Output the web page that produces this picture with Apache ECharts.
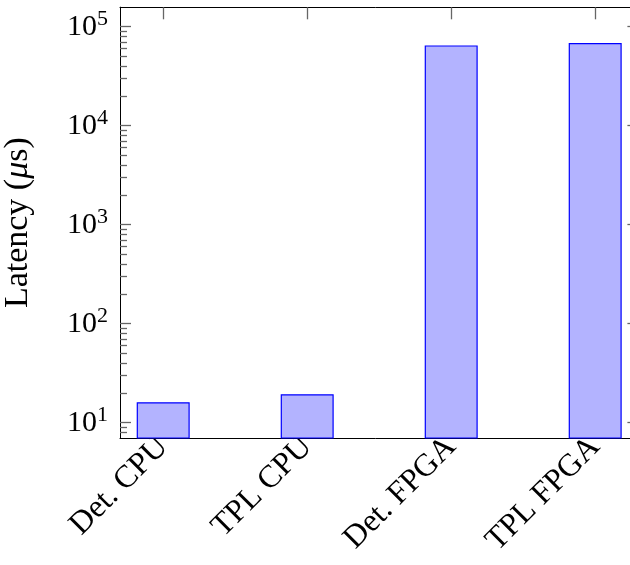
<!DOCTYPE html>
<html>
<head>
<meta charset="utf-8">
<script src="https://cdn.jsdelivr.net/npm/echarts@6/dist/echarts.min.js"></script>
<style>
  html, body { margin: 0; padding: 0; background: #fff; }
  #chart { width: 630px; height: 565px; }
</style>
</head>
<body>
<div id="chart"></div>
<script>
const categories = ["Det. CPU", "TPL CPU", "Det. FPGA", "TPL FPGA"];
const latency = [16.1, 19.4, 64700, 68400];
const majorExp = [1, 2, 3, 4, 5];
const minorMult = [2, 3, 4, 5, 6, 7, 8, 9];
const yMin = 7;
const yMax = 157000;

const font = "Liberation Serif";
const lMin = Math.log10(yMin);
const lMax = Math.log10(yMax);

// minor ticks (2..9 x 10^k), in log space for the overlay axis
const minorLog = [];
for (let k = 0; k <= 5; k++) {
  minorMult.forEach((m) => {
    const v = Math.log10(m) + k;
    if (v > lMin && v < lMax) minorLog.push(v);
  });
}

const tickStyle = { color: "#666", width: 1.3 };

// overlay axis used only to draw tick marks
const tickAxis = (pos, len, values) => ({
  type: "value",
  min: lMin,
  max: lMax,
  position: pos,
  splitLine: { show: false },
  axisLine: { show: true, onZero: false, lineStyle: { color: "#000", width: 1 } },
  axisLabel: { show: false },
  axisTick: { show: true, inside: true, length: len, customValues: values, lineStyle: tickStyle },
});

const option = {
  animation: false,
  grid: { left: 120, right: -8.4, top: 7.3, bottom: 127, outerBoundsMode: "none" },
  xAxis: [
    {
      type: "value",
      min: -0.3,
      max: 3.3,
      position: "bottom",
      splitLine: { show: false },
      axisLine: { onZero: false, lineStyle: { color: "#000", width: 1 } },
      axisTick: { show: false },
      axisLabel: {
        customValues: [0, 1, 2, 3],
        formatter: (v) => categories[Math.round(v)],
        rotate: 45,
        margin: 4,
        fontFamily: font,
        fontSize: 32,
        color: "#000",
      },
    },
    {
      type: "value",
      min: -0.3,
      max: 3.3,
      position: "top",
      splitLine: { show: false },
      axisLine: { onZero: false, lineStyle: { color: "#000", width: 1 } },
      axisTick: {
        inside: true,
        length: 12,
        customValues: [0, 1, 2, 3],
        lineStyle: tickStyle,
      },
      axisLabel: { show: false },
    },
  ],
  yAxis: [
    {
      type: "log",
      min: yMin,
      max: yMax,
      position: "left",
      splitLine: { show: false },
      axisLine: { onZero: false, lineStyle: { color: "#000", width: 1 } },
      axisTick: { show: false },
      name: "Latency ({i|μ}s)",
      nameLocation: "middle",
      nameGap: 85,
      nameTextStyle: {
        fontFamily: font,
        fontSize: 34,
        color: "#000",
        rich: { i: { fontFamily: font, fontSize: 34, fontStyle: "italic", color: "#000" } },
      },
      axisLabel: {
        margin: 12,
        color: "#000",
        formatter: (v) => {
          const e = Math.round(Math.log10(v));
          if (Math.abs(Math.log10(v) - e) > 1e-6) return "";
          return "{b|10}{s|" + e + "}";
        },
        rich: {
          b: { fontFamily: font, fontSize: 30, color: "#000" },
          s: { fontFamily: font, fontSize: 22, color: "#000", padding: [0, 0, 14, 0] },
        },
      },
    },
    tickAxis("left", 7, minorLog),
    tickAxis("left", 11, majorExp),
    tickAxis("right", 11, majorExp),
  ],
  series: [
    {
      type: "bar",
      xAxisIndex: 0,
      yAxisIndex: 0,
      barWidth: 53,
      data: latency.map((v, i) => [i, v]),
      itemStyle: { color: "#b3b3ff", borderColor: "#0000ff", borderWidth: 1.2 },
    },
  ],
};

const chart = echarts.init(document.getElementById("chart"), null, { renderer: "canvas" });
chart.setOption(option);
</script>
</body>
</html>
